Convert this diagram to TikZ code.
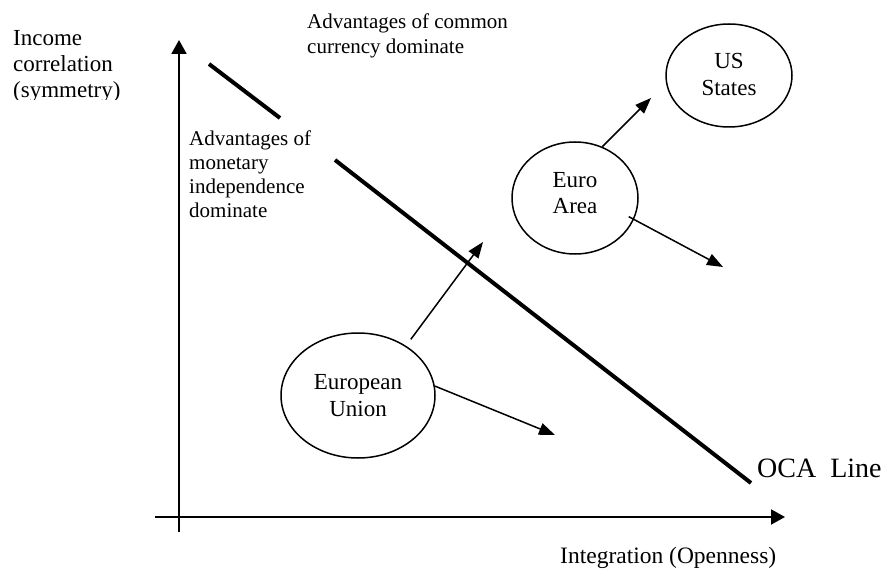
\documentclass[tikz,border=0pt]{standalone}
\usepackage{fontspec}
\setmainfont{Liberation Serif}
\usetikzlibrary{arrows.meta,shapes.geometric}
\begin{document}
\begin{tikzpicture}[x=1pt,y=-1pt,
  lbl/.style={inner sep=0pt, align=left, anchor=north west},
  ell/.style={draw, ellipse, line width=1.5pt, inner sep=0pt, align=center, font=\fontsize{23}{27}\selectfont},
  arr/.style={line width=1.5pt, -{Triangle[length=16pt,width=12pt]}},
  axis/.style={line width=2pt, -{Triangle[length=14pt,width=15pt]}},
  oca/.style={line width=4pt}]
\useasboundingbox (0,0) rectangle (888,569);
% axes
\coordinate (yb) at (179,532);
\coordinate (yt) at (179,40);
\coordinate (xl) at (155,517);
\coordinate (xr) at (785,517);
\draw[axis] (yb) -- (yt);
\draw[axis] (xl) -- (xr);
% OCA line (interrupted by the text box)
\coordinate (o1) at (209,64);
\coordinate (o2) at (280,118);
\coordinate (o3) at (335,160);
\coordinate (o4) at (751,483);
\draw[oca] (o1) -- (o2);
\draw[oca] (o3) -- (o4);
% labels
\begin{scope}
\clip (0,0) rectangle (170,100);
\node[lbl, font=\fontsize{23}{26}\selectfont] (ylab) at (13,29.8) {Income\\correlation\\(symmetry)};
\end{scope}
\node[lbl, font=\fontsize{21}{25}\selectfont] (common) at (307,13.7) {Advantages of common\\currency dominate};
\node[lbl, font=\fontsize{21}{24}\selectfont] (indep) at (189,130.7) {Advantages of\\monetary\\independence\\dominate};
\node[lbl, font=\fontsize{23.5}{28}\selectfont] (xlab) at (560,546.9) {Integration (Openness)};
\node[lbl, font=\fontsize{28}{32}\selectfont] (ocalab) at (757,458.9) {OCA\ \ Line};
% ellipses
\node[ell, minimum width=126pt, minimum height=103pt, text depth=3pt] (us) at (729,75.5) {US\\States};
\node[ell, minimum width=126pt, minimum height=112pt, text depth=10pt, font=\fontsize{23}{26}\selectfont] (ea) at (575,198) {Euro\\Area};
\node[ell, minimum width=154pt, minimum height=125pt] (eu) at (358,395.5) {European\\Union};
% arrow tips
\coordinate (t1) at (483,242);
\coordinate (t2) at (555,435);
\coordinate (t3) at (651,98);
\coordinate (t4) at (723,267);
\draw[arr, shorten <=8pt] (eu.46) -- (t1);
\draw[arr] (eu.7) -- (t2);
\draw[arr] (ea.62) -- (t3);
\draw[arr, shorten <=-6pt] (ea.-20) -- (t4);
\end{tikzpicture}
\end{document}
